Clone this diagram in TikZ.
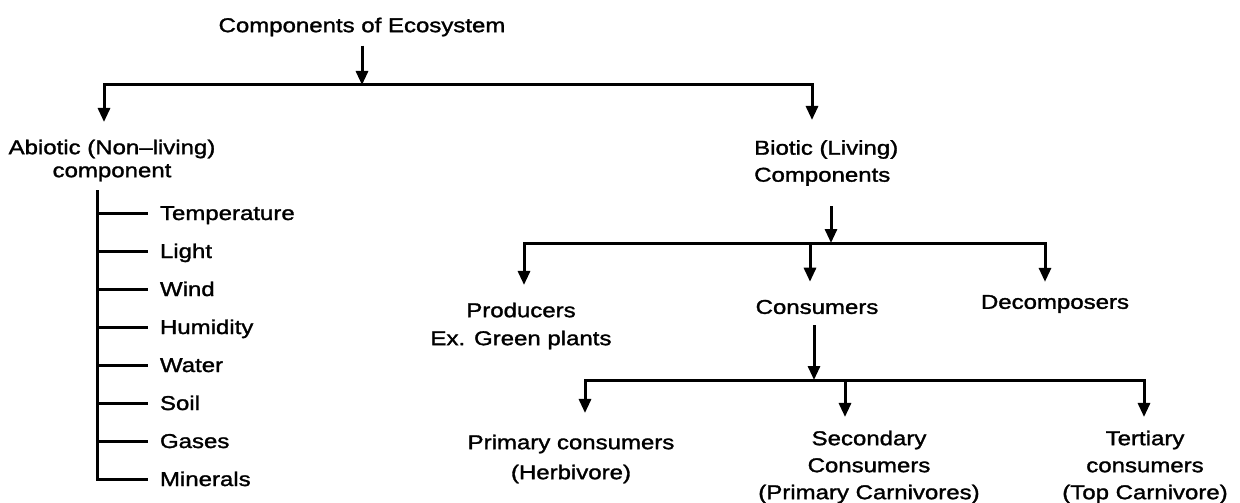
\documentclass[tikz,border=0pt]{standalone}
\usepackage{fontspec}
\setmainfont{Liberation Sans}[FakeStretch=1.2,FakeBold=1.5]
\usetikzlibrary{arrows.meta}
\begin{document}
\begin{tikzpicture}[x=1pt,y=-1pt,
  txt/.style={inner xsep=0pt, align=center, font=\fontsize{20}{27}\selectfont},
  ln/.style={line width=3pt, line join=miter, line cap=butt},
  tip/.style={-{Triangle[width=12pt,length=14pt]}},
  tips/.style={{Triangle[width=12pt,length=14pt]}-{Triangle[width=12pt,length=14pt]}},
  item/.style={anchor=west, inner sep=0pt, outer xsep=12pt, font=\fontsize{20}{24}\selectfont, text height=14pt, text depth=0pt}]
\useasboundingbox[fill=white] (0,0) rectangle (1240,503);

% top level
\node[txt, inner ysep=9pt] (eco) at (362,27) {Components of Ecosystem};
\coordinate (j1) at (362,85);
\coordinate (hL) at (104,85);
\coordinate (hR) at (812,85);
\node[txt, inner ysep=17.5pt, font=\fontsize{20}{23}\selectfont] (abiotic) at (112,160.5) {Abiotic (Non–living)\\component};
\node[txt, align=left, anchor=west, inner ysep=20pt] (biotic) at (754,163) {Biotic (Living)\\Components};
\draw[ln, tip] (eco.south) -- (j1);
\draw[ln, tips] (hL |- abiotic.north) -- (hL) -- (hR) -- (hR |- biotic.north);

% abiotic list
\coordinate (sp) at (97,190);
\foreach \n/\t/\y in {1/Temperature/213, 2/Light/251, 3/Wind/289, 4/Humidity/327, 5/Water/365, 6/Soil/403, 7/Gases/441, 8/Minerals/479}
  \node[item] (i\n) at (148,\y) {\t};
\draw[ln] (sp) -- (sp |- i8.west) -- (i8.west);
\foreach \n in {1,...,7}
  \draw[ln] (sp |- i\n.west) -- (i\n.west);

% biotic level
\coordinate (jB) at (831,243);
\coordinate (jP) at (524,243);
\coordinate (jM) at (810,243);
\coordinate (jD) at (1045,243);
\draw[ln, tip] (biotic.south -| jB) -- (jB);
\node[txt, inner ysep=17.5pt, font=\fontsize{20}{28}\selectfont] (prod) at (521,326) {Producers\\Ex. Green plants};
\node[txt, inner ysep=18pt] (cons) at (817,307) {Consumers};
\node[txt, inner ysep=13pt] (dec) at (1055,304) {Decomposers};
\draw[ln, tips] (jP |- prod.north) -- (jP) -- (jD) -- (jD |- dec.north);
\draw[ln, tip] (jM) -- (jM |- cons.north);

% consumers level
\coordinate (jC) at (814,380);
\coordinate (jQ) at (585,380);
\coordinate (jS) at (845,380);
\coordinate (jT) at (1144,380);
\draw[ln, tip, shorten <=-7pt] (cons.south -| jC) -- (jC);
\node[txt, inner ysep=21.5pt, font=\fontsize{20}{30}\selectfont] (prim) at (571,459) {Primary consumers\\(Herbivore)};
\node[txt, inner ysep=13.5pt] (sec) at (869,467) {Secondary\\Consumers\\(Primary Carnivores)};
\node[txt, inner ysep=13.5pt] (ter) at (1145,467) {Tertiary\\consumers\\(Top Carnivore)};
\draw[ln, tips] (jQ |- prim.north) -- (jQ) -- (jT) -- (jT |- ter.north);
\draw[ln, tip] (jS) -- (jS |- sec.north);
\end{tikzpicture}
\end{document}
